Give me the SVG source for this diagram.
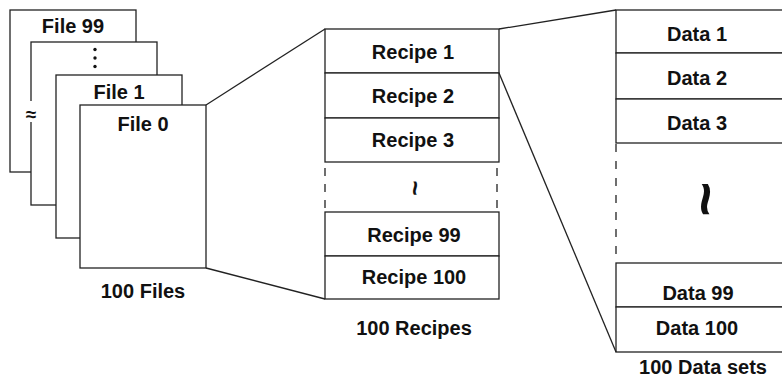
<svg xmlns="http://www.w3.org/2000/svg" width="782" height="384" viewBox="0 0 782 384">
<style>
.box{fill:#fff;stroke:#222;stroke-width:1.3}
.ln{fill:none;stroke:#222;stroke-width:1.3}
.dash{fill:none;stroke:#222;stroke-width:1.3;stroke-dasharray:8 9}
text{font-family:"Liberation Sans",Arial,sans-serif;font-weight:bold;font-size:20px;fill:#111;text-anchor:middle}
</style>
<rect width="782" height="384" fill="#fff"/>
<g id="files">
  <g id="file99">
    <rect class="box" x="10" y="10" width="126" height="162"/>
    <text x="73" y="33">File 99</text>
  </g>
  <g id="fileDots">
    <rect class="box" x="31" y="42" width="126" height="163"/>
    <circle cx="95" cy="49.5" r="1.7" fill="#111"/>
    <circle cx="95" cy="58" r="1.7" fill="#111"/>
    <circle cx="95" cy="66.5" r="1.7" fill="#111"/>
    <rect x="25" y="101" width="12" height="21" fill="#fff"/>
    <text x="31" y="121" style="font-size:19px">≈</text>
  </g>
  <g id="file1">
    <rect class="box" x="56" y="75" width="126" height="163"/>
    <text x="119" y="99">File 1</text>
  </g>
  <g id="file0">
    <rect class="box" x="80" y="105" width="126" height="163"/>
    <text x="143" y="131">File 0</text>
  </g>
  <text x="143" y="298">100 Files</text>
</g>
<g id="recipes">
  <g id="recipe1"><rect class="box" x="325" y="29" width="174" height="44"/><text x="413" y="59">Recipe 1</text></g>
  <g id="recipe2"><rect class="box" x="325" y="73" width="174" height="45"/><text x="413" y="103">Recipe 2</text></g>
  <g id="recipe3"><rect class="box" x="325" y="118" width="174" height="44"/><text x="413" y="147">Recipe 3</text></g>
  <g id="recipeGap">
    <line class="dash" x1="325" y1="168" x2="325" y2="212" style="stroke-dasharray:8 8"/>
    <line class="dash" x1="497" y1="168" x2="497" y2="212" style="stroke-dasharray:8 8"/>
    <text transform="translate(414,188) rotate(90)" x="0" y="8" style="font-size:26px">~</text>
  </g>
  <g id="recipe99"><rect class="box" x="325" y="212" width="174" height="44"/><text x="414" y="242">Recipe 99</text></g>
  <g id="recipe100"><rect class="box" x="325" y="256" width="174" height="43"/><text x="414" y="284">Recipe 100</text></g>
  <text x="414" y="335">100 Recipes</text>
</g>
<g id="data">
  <g id="data1"><rect class="box" x="616" y="10" width="190" height="43"/><text x="697" y="40.5">Data 1</text></g>
  <g id="data2"><rect class="box" x="616" y="53" width="190" height="46"/><text x="697" y="85">Data 2</text></g>
  <g id="data3"><rect class="box" x="616" y="99" width="190" height="44"/><text x="697" y="130">Data 3</text></g>
  <g id="dataGap">
    <line class="dash" x1="616" y1="144" x2="616" y2="263"/>
    <text transform="translate(704,199) rotate(90)" x="0" y="18" style="font-size:60px">~</text>
  </g>
  <g id="data99"><rect class="box" x="616" y="263" width="190" height="44"/><text x="698" y="300">Data 99</text></g>
  <g id="data100"><rect class="box" x="616" y="307" width="190" height="45"/><text x="697" y="335">Data 100</text></g>
  <text x="703" y="374">100 Data sets</text>
</g>
<g id="connectors">
  <line class="ln" x1="206" y1="105" x2="325" y2="29"/>
  <line class="ln" x1="206" y1="268" x2="325" y2="299"/>
  <line class="ln" x1="499" y1="29" x2="616" y2="10"/>
  <line class="ln" x1="499" y1="73" x2="616" y2="352"/>
</g>
</svg>
